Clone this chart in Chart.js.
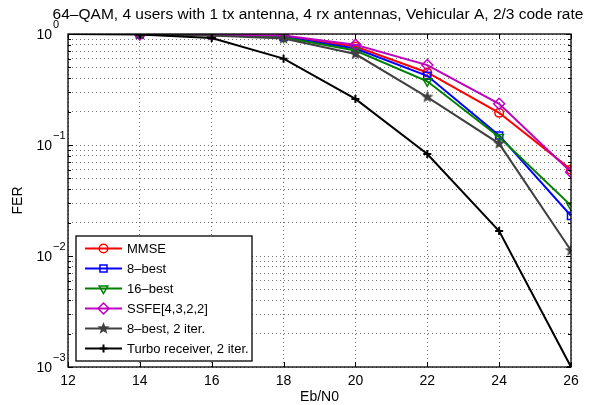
<!DOCTYPE html>
<html>
<head>
<meta charset="utf-8">
<script src="https://cdn.jsdelivr.net/npm/chart.js@4/dist/chart.umd.min.js"></script>
<style>
  body { margin: 0; background: #fff; }
  canvas { display: block; }
</style>
</head>
<body>
<canvas id="js--fer" width="594" height="405"></canvas>
<script>
// Eb/N0 points (dB)
const ebn0 = [14, 16, 18, 20, 22, 24, 26];
const ebn0Turbo = [12, 14, 16, 18, 20, 22, 24, 26];

// FER
const mmse = [0.99, 0.98, 0.95, 0.77, 0.45, 0.195, 0.060];
const best8 = [0.99, 0.98, 0.94, 0.74, 0.42, 0.122, 0.023];
const best16 = [0.99, 0.98, 0.93, 0.71, 0.375, 0.118, 0.0285];
const ssfe = [0.99, 0.99, 0.97, 0.80, 0.525, 0.235, 0.057];
const best8iter = [0.99, 0.97, 0.91, 0.66, 0.27, 0.103, 0.0112];
const turbo = [1.0, 0.99, 0.92, 0.60, 0.26, 0.083, 0.0168, 0.001];

const xTicks = [12, 14, 16, 18, 20, 22, 24, 26];
const yDecades = [-3, -2, -1, 0];

const FONT = '"Liberation Sans", Arial, sans-serif';

function makeStar(r, color) {
  const c = document.createElement("canvas");
  c.width = c.height = Math.ceil(2 * r + 2);
  const g = c.getContext("2d");
  const cx = c.width / 2, cy = c.height / 2;
  g.beginPath();
  for (let i = 0; i < 10; i++) {
    const rad = i % 2 === 0 ? r : r * 0.42;
    const a = -Math.PI / 2 + (i * Math.PI) / 5;
    g.lineTo(cx + rad * Math.cos(a), cy + rad * Math.sin(a));
  }
  g.closePath();
  g.fillStyle = color;
  g.fill();
  return c;
}

const grey = "#404040";
const starImg = makeStar(6.5, grey);

function pts(xs, ys) {
  return xs.map((x, i) => ({ x: x, y: ys[i] }));
}

function series(label, xs, ys, color, style, extra) {
  return Object.assign({
    label: label,
    data: pts(xs, ys),
    borderColor: color,
    backgroundColor: "transparent",
    borderWidth: 2,
    pointStyle: style,
    pointRadius: 4,
    pointBorderWidth: 1.5,
    pointBorderColor: color,
    pointBackgroundColor: "transparent",
    tension: 0,
  }, extra || {});
}

const datasets = [
  series("MMSE", ebn0, mmse, "#ff0000", "circle", { order: 6, pointRadius: 4.3 }),
  series("8\u2013best", ebn0, best8, "#0000ff", "rect", { order: 5, pointRadius: 5 }),
  series("16\u2013best", ebn0, best16, "#008000", "triangle", { order: 4, pointRotation: 180, pointRadius: 5 }),
  series("SSFE[4,3,2,2]", ebn0, ssfe, "#bf00bf", "rectRot", { order: 3, pointRadius: 5.5 }),
  series("8\u2013best, 2 iter.", ebn0, best8iter, grey, starImg, { order: 2 }),
  series("Turbo receiver, 2 iter.", ebn0Turbo, turbo, "#000000", "cross", { order: 1, pointRadius: 4, pointBorderWidth: 2 }),
];

const matlabAxes = {
  id: "matlabAxes",
  afterDraw(chart) {
    const ctx = chart.ctx;
    const a = chart.chartArea;
    const xs = chart.scales.x, ys = chart.scales.y;
    ctx.save();

    // box
    ctx.strokeStyle = "#000";
    ctx.lineWidth = 1.3;
    ctx.strokeRect(a.left, a.top, a.right - a.left, a.bottom - a.top);

    // inward ticks
    ctx.lineWidth = 1;
    ctx.beginPath();
    xTicks.forEach((v) => {
      const px = Math.round(xs.getPixelForValue(v)) + 0.5;
      ctx.moveTo(px, a.bottom); ctx.lineTo(px, a.bottom - 5);
      ctx.moveTo(px, a.top); ctx.lineTo(px, a.top + 5);
    });
    yDecades.forEach((d) => {
      for (let m = 1; m <= 9; m++) {
        const v = m * Math.pow(10, d);
        if (v > 1.0001) break;
        const py = Math.round(ys.getPixelForValue(v)) + 0.5;
        const len = m === 1 ? 5 : 3;
        ctx.moveTo(a.left, py); ctx.lineTo(a.left + len, py);
        ctx.moveTo(a.right, py); ctx.lineTo(a.right - len, py);
      }
    });
    ctx.stroke();

    // tick labels
    ctx.fillStyle = "#000";
    ctx.font = "14px " + FONT;
    ctx.textAlign = "center";
    ctx.textBaseline = "middle";
    xTicks.forEach((v) => {
      ctx.fillText(String(v), xs.getPixelForValue(v), a.bottom + 14);
    });
    yDecades.forEach((d) => {
      const py = ys.getPixelForValue(Math.pow(10, d));
      ctx.font = "14px " + FONT;
      ctx.textAlign = "right";
      ctx.fillText("10", 52, py + 1);
      ctx.font = "11px " + FONT;
      ctx.textAlign = "left";
      ctx.fillText(d === 0 ? "0" : "\u2212" + Math.abs(d), 53, py - 9);
    });

    // axis labels and title
    ctx.font = "14px " + FONT;
    ctx.textAlign = "center";
    ctx.fillText("Eb/N0", (a.left + a.right) / 2, 397);
    ctx.save();
    ctx.translate(18, (a.top + a.bottom) / 2);
    ctx.rotate(-Math.PI / 2);
    ctx.fillText("FER", 0, 0);
    ctx.restore();
    ctx.font = "15.5px " + FONT;
    ctx.fillText("64\u2013QAM, 4 users with 1 tx antenna, 4 rx antennas, Vehicular A, 2/3 code rate", 318, 15);

    // legend
    const lx = 76, ly = 236, lw = 176, lh = 125;
    ctx.fillStyle = "#fff";
    ctx.fillRect(lx, ly, lw, lh);
    ctx.strokeStyle = "#000";
    ctx.lineWidth = 1.3;
    ctx.strokeRect(lx, ly, lw, lh);
    ctx.font = "13px " + FONT;
    ctx.textAlign = "left";
    datasets.forEach((ds, i) => {
      const y = 248.5 + i * 20;
      ctx.strokeStyle = ds.borderColor;
      ctx.lineWidth = 2;
      ctx.beginPath();
      ctx.moveTo(85, y); ctx.lineTo(122, y);
      ctx.stroke();
      ctx.lineWidth = ds.pointBorderWidth;
      ctx.fillStyle = "rgba(0,0,0,0)";
      Chart.helpers.drawPoint(ctx, {
        pointStyle: ds.pointStyle,
        radius: ds.pointRadius,
        rotation: ds.pointRotation || 0,
        borderWidth: ds.pointBorderWidth,
      }, 103.5, y);
      ctx.fillStyle = "#000";
      ctx.fillText(ds.label, 127, y + 1);
    });
    ctx.restore();
  },
};

new Chart(document.getElementById("js--fer"), {
  type: "line",
  data: { datasets: datasets },
  plugins: [matlabAxes],
  options: {
    responsive: false,
    animation: false,
    devicePixelRatio: 1,
    layout: { padding: { left: 68, top: 34, right: 23, bottom: 38 } },
    plugins: { legend: { display: false }, tooltip: { enabled: false } },
    scales: {
      x: {
        type: "linear",
        min: 12,
        max: 26,
        ticks: { display: false, stepSize: 2 },
        grid: { color: "rgba(0,0,0,0.55)", lineWidth: 1, drawTicks: false },
        border: { display: false, dash: [1, 3] },
      },
      y: {
        type: "logarithmic",
        min: 0.001,
        max: 1,
        afterBuildTicks(scale) {
          const t = [];
          yDecades.forEach((d) => {
            for (let m = 1; m <= 9; m++) {
              const v = m * Math.pow(10, d);
              if (v <= 1.0001) t.push({ value: v });
            }
          });
          scale.ticks = t;
        },
        ticks: { display: false },
        grid: { color: "rgba(0,0,0,0.55)", lineWidth: 1, drawTicks: false },
        border: { display: false, dash: [1, 3] },
      },
    },
  },
});
</script>
</body>
</html>
